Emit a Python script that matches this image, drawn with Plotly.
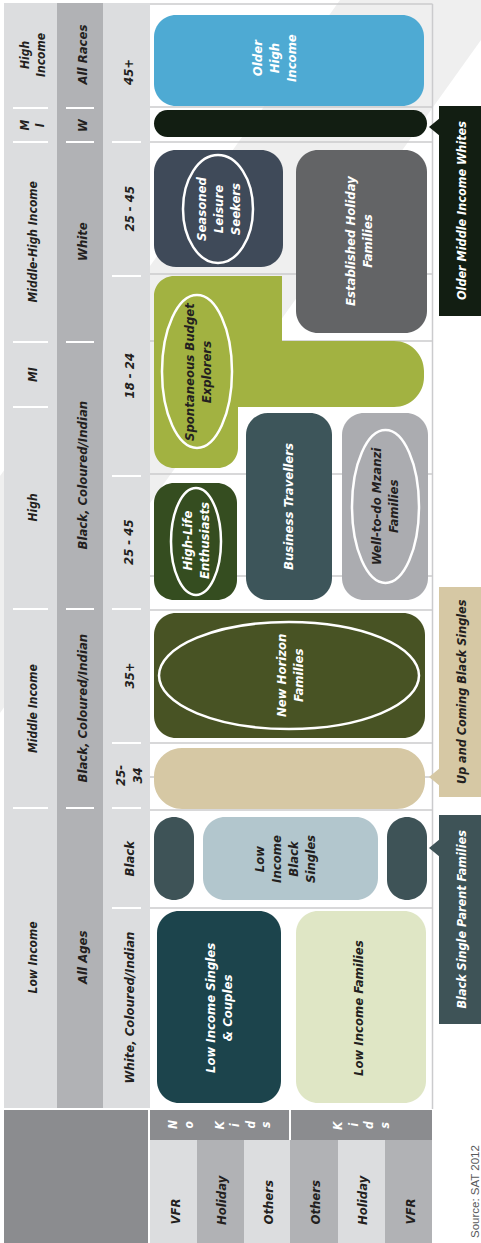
import plotly.graph_objects as go

W, H = 481, 1243

# ---------------- data (labels) ----------------
income_labels = ["High<br>Income", "M<br>I", "Middle-High Income", "MI", "High", "Middle Income", "Low Income"]
race_labels = ["All Races", "W", "White", "Black, Coloured/Indian", "Black, Coloured/Indian", "All Ages"]
age_labels = ["45+", "25 - 45", "18 - 24", "25 - 45", "35+", "25-<br>34", "Black", "White, Coloured/Indian"]
purpose_labels = ["VFR", "Holiday", "Others", "Others", "Holiday", "VFR"]
kids_labels = ["No Kids", "Kids"]
segment_names = [
    "Older<br>High<br>Income",
    "",
    "Seasoned<br>Leisure<br>Seekers",
    "Established Holiday<br>Families",
    "Spontaneous Budget<br>Explorers",
    "High-Life<br>Enthusiasts",
    "Business Travellers",
    "Well-to-do Mzanzi<br>Families",
    "New Horizon<br>Families",
    "",
    "Low<br>Income<br>Black<br>Singles",
    "",
    "",
    "Low Income Singles<br>& Couples",
    "Low Income Families",
]
callout_labels = ["Older Middle Income Whites", "Up and Coming Black Singles", "Black Single Parent Families"]
source_text = "Source: SAT 2012"

# ---------------- layout geometry (pixel space of the diagram) ----------------
income_bounds = [3, 108, 142, 342, 407, 609, 808, 1108]
race_bounds = [3, 108, 142, 342, 609, 808, 1108]
age_bounds = [3, 142, 276, 476, 609, 743, 808, 908, 1108]
strip_x = [(4, 57), (57, 103), (103, 150)]
strip_colors = ["#dcdddf", "#b1b2b5", "#dcdddf"]
strip_font = [12, 13, 13]
grid_x = (150, 432.5)
grid_lines_y = [107, 142, 274, 341, 474, 576, 610, 743, 777, 810, 908]
purpose_bounds = [150, 197, 244, 290, 338, 385, 432]
purpose_colors = ["#dcdddf", "#b1b2b5", "#dcdddf", "#b1b2b5", "#dcdddf", "#b1b2b5"]
kids_x = [(150, 289), (291, 432)]
kids_char_start = [173, 338]

# segments: x0, y0, x1, y1, radius
seg_box = [
    (154, 15, 424, 106, 22),
    (154, 110, 427, 137, 13.5),
    (154, 150, 283, 267, 22),
    (296, 150, 427, 333, 22),
    None,  # L-shaped (path below)
    (154, 483, 237, 600, 20),
    (246, 413, 332, 600, 22),
    (342, 413, 428, 600, 22),
    (154, 613, 425, 738, 22),
    (154, 748, 425, 809, 28),
    (203, 817, 378, 900, 22),
    (154, 817, 194, 900, 20),
    (387, 817, 427, 900, 20),
    (157, 911, 281, 1103, 22),
    (296, 911, 426, 1103, 22),
]
seg_fill = ["#4eaad3", "#121e12", "#3f4a59", "#636466", "#a2b241", "#354d20", "#3d555a",
            "#abacb0", "#485324", "#d6c8a4", "#b2c6cd", "#3e5357", "#3e5357", "#1c444c", "#dfe6c5"]
seg_text_color = ["white", "white", "white", "white", "#231f20", "white", "white",
                  "#231f20", "white", "white", "#231f20", "white", "white", "white", "#231f20"]
seg_label_pos = [(274, 58), None, (218, 209), (359, 241), (198, 372), (196, 541), (288, 507),
                 (385, 506), (290, 676), None, (285, 859), None, None, (219, 1008), (358, 1008)]
seg_ellipse = [None, None, (183, 155, 253, 263), None, (162, 295, 232, 448), (171, 488, 221, 595),
               None, (352, 430, 419, 583), (159, 622, 419, 729), None, None, None, None, None, None]

callout_box = [(439, 106, 481, 316), (439, 587, 481, 797), (439, 815, 481, 1024)]
callout_tip = [(429, 127), (429, 777), (429, 848)]
callout_fill = ["#121e12", "#d6c8a4", "#3e5357"]
callout_text_color = ["white", "#231f20", "white"]

FONT = "Liberation Sans Narrow, DejaVu Sans Condensed, Arial Narrow, sans-serif"
DARK = "#231f20"
K = 0.5523


def rrect(x0, y0, x1, y1, r):
    r = min(r, (x1 - x0) / 2, (y1 - y0) / 2)
    c = r * (1 - K)
    return (f"M{x0 + r},{y0} L{x1 - r},{y0} C{x1 - c},{y0} {x1},{y0 + c} {x1},{y0 + r} "
            f"L{x1},{y1 - r} C{x1},{y1 - c} {x1 - c},{y1} {x1 - r},{y1} "
            f"L{x0 + r},{y1} C{x0 + c},{y1} {x0},{y1 - c} {x0},{y1 - r} "
            f"L{x0},{y0 + r} C{x0},{y0 + c} {x0 + c},{y0} {x0 + r},{y0} Z")


def l_shape(x0, y0, xa, yb0, xb, yb1, xc, y1, r, rb):
    c = r * (1 - K)
    cb = rb * (1 - K)
    return (f"M{x0 + r},{y0} L{xa},{y0} L{xa},{yb0} L{xb - rb},{yb0} "
            f"C{xb - cb},{yb0} {xb},{yb0 + cb} {xb},{yb0 + rb} L{xb},{yb1 - rb} "
            f"C{xb},{yb1 - cb} {xb - cb},{yb1} {xb - rb},{yb1} L{xc},{yb1} L{xc},{y1 - r} "
            f"C{xc},{y1 - c} {xc - c},{y1} {xc - r},{y1} L{x0 + r},{y1} "
            f"C{x0 + c},{y1} {x0},{y1 - c} {x0},{y1 - r} L{x0},{y0 + r} "
            f"C{x0},{y0 + c} {x0 + c},{y0} {x0 + r},{y0} Z")


shapes = []
ann = []


def txt(x, y, s, size=13, color=DARK, weight="bold", style="italic", angle=-90,
        xanchor="center", yanchor="middle", family=FONT):
    ann.append(dict(x=x, y=y, xref="x", yref="y", text=s, showarrow=False, textangle=angle,
                    xanchor=xanchor, yanchor=yanchor,
                    font=dict(family=family, size=size, color=color, weight=weight, style=style)))


# watermark band
shapes.append(dict(type="path", path="M340,0 L481,0 L481,40 L0,713 L0,476 Z",
                   fillcolor="#efefef", line=dict(width=0), layer="below"))

# header strips
for (sx0, sx1), col in zip(strip_x, strip_colors):
    shapes.append(dict(type="rect", x0=sx0, x1=sx1, y0=3, y1=1108, fillcolor=col, line=dict(width=0)))
shapes.append(dict(type="rect", x0=4, x1=148, y0=1110, y1=1243, fillcolor="#8b8c8f", line=dict(width=0)))

for labels, bounds, (sx0, sx1), fs in zip([income_labels, race_labels, age_labels],
                                          [income_bounds, race_bounds, age_bounds], strip_x, strip_font):
    for b in bounds[1:-1]:
        shapes.append(dict(type="line", x0=sx0 + 9, x1=sx1 - 9, y0=b, y1=b,
                           line=dict(color="white", width=2)))
    for i, lab in enumerate(labels):
        txt((sx0 + sx1) / 2 + 2, (bounds[i] + bounds[i + 1]) / 2, lab, size=fs)

# grid
shapes.append(dict(type="line", x0=grid_x[0], x1=grid_x[1], y0=4, y1=4, line=dict(color="#cbcbcd", width=1.5)))
shapes.append(dict(type="line", x0=grid_x[1], x1=grid_x[1], y0=4, y1=1109, line=dict(color="#cbcbcd", width=1.5)))
for gy in grid_lines_y:
    shapes.append(dict(type="line", x0=grid_x[0], x1=grid_x[1], y0=gy, y1=gy,
                       line=dict(color="#cbcbcd", width=1.5)))

# bottom purpose table
for (kx0, kx1), lab, cs in zip(kids_x, kids_labels, kids_char_start):
    shapes.append(dict(type="rect", x0=kx0, x1=kx1, y0=1110, y1=1140, fillcolor="#8b8c8f", line=dict(width=0)))
    for j, ch in enumerate(lab):
        if ch != " ":
            txt(cs + j * 15.5, 1125, ch, size=12, color="white")
for i, lab in enumerate(purpose_labels):
    shapes.append(dict(type="rect", x0=purpose_bounds[i], x1=purpose_bounds[i + 1], y0=1140, y1=1243,
                       fillcolor=purpose_colors[i], line=dict(width=0)))
    txt((purpose_bounds[i] + purpose_bounds[i + 1]) / 2 + 1, 1227, lab, size=13, yanchor="bottom")

# segments
for i, name in enumerate(segment_names):
    if seg_box[i] is None:
        p = l_shape(154, 276, 282, 341, 424, 407, 238, 468, 20, 30)
    else:
        p = rrect(*seg_box[i])
    shapes.append(dict(type="path", path=p, fillcolor=seg_fill[i], line=dict(width=0)))
    if seg_ellipse[i] is not None:
        ex0, ey0, ex1, ey1 = seg_ellipse[i]
        shapes.append(dict(type="circle", x0=ex0, y0=ey0, x1=ex1, y1=ey1,
                           line=dict(color="white", width=2.5), fillcolor="rgba(0,0,0,0)"))
    if seg_label_pos[i] is not None and name:
        txt(seg_label_pos[i][0], seg_label_pos[i][1], name, size=13, color=seg_text_color[i])

# callouts
for (bx0, by0, bx1, by1), (tx, ty), col, tcol, lab in zip(callout_box, callout_tip, callout_fill,
                                                          callout_text_color, callout_labels):
    shapes.append(dict(type="rect", x0=bx0, x1=bx1, y0=by0, y1=by1, fillcolor=col, line=dict(width=0)))
    shapes.append(dict(type="path", path=f"M{tx},{ty} L{bx0 + 1},{ty - 9} L{bx0 + 1},{ty + 9} Z",
                       fillcolor=col, line=dict(width=0)))
    txt((bx0 + bx1) / 2 + 1, (by0 + by1) / 2, lab, size=12.5, color=tcol)

# source
txt(475, 1192, source_text, size=11.5, color="#58595b", weight="normal", style="normal",
    family="Liberation Sans, Arial, sans-serif")

fig = go.Figure()
fig.add_trace(go.Scatter(x=[0, W], y=[0, H], mode="markers", marker=dict(opacity=0),
                         hoverinfo="skip", showlegend=False))
fig.update_layout(
    width=W, height=H, margin=dict(l=0, r=0, t=0, b=0),
    paper_bgcolor="white", plot_bgcolor="white",
    xaxis=dict(range=[0, W], visible=False, fixedrange=True),
    yaxis=dict(range=[H, 0], visible=False, fixedrange=True),
    shapes=shapes, annotations=ann, showlegend=False,
)
fig.write_html("out.html", config={"displayModeBar": False},
               post_script="document.body.style.margin='0px';document.body.style.overflow='hidden';")
